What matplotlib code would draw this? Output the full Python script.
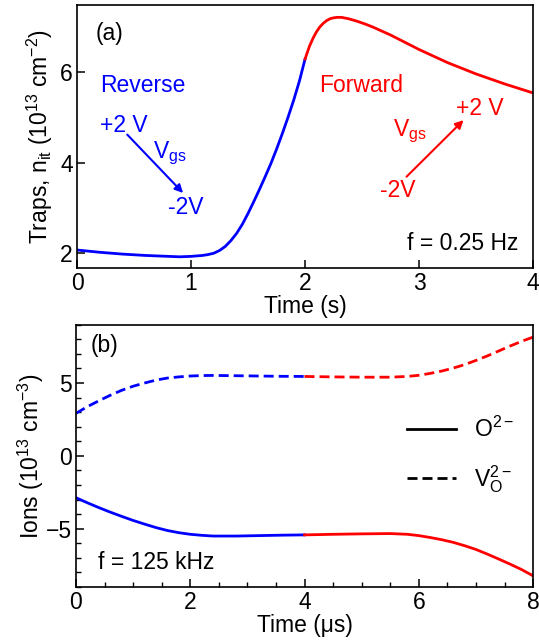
import matplotlib
matplotlib.use('Agg')
import matplotlib.pyplot as plt
from matplotlib.ticker import MultipleLocator
from matplotlib.lines import Line2D

plt.rcParams['font.family'] = ['Liberation Sans', 'DejaVu Sans']
plt.rcParams['mathtext.fontset'] = 'custom'
plt.rcParams['mathtext.rm'] = 'Liberation Sans'
plt.rcParams['mathtext.it'] = 'Liberation Sans'
plt.rcParams['mathtext.bf'] = 'Liberation Sans'

# (a) traps vs time, f = 0.25 Hz
t_rev = [0, 0.2, 0.4, 0.6, 0.8, 0.9, 1.0, 1.05, 1.1, 1.15, 1.2, 1.25, 1.3,
         1.35, 1.4, 1.45, 1.5, 1.55, 1.6, 1.65, 1.7, 1.75, 1.8, 1.85, 1.9,
         1.95, 2.0]
n_rev = [2.07, 2.02, 1.98, 1.95, 1.93, 1.92, 1.93, 1.94, 1.95, 1.97, 2.00,
         2.06, 2.15, 2.28, 2.44, 2.64, 2.88, 3.14, 3.41, 3.69, 3.98, 4.30,
         4.64, 5.00, 5.38, 5.80, 6.29]
t_fwd = [2.0, 2.02, 2.04, 2.07, 2.1, 2.13, 2.16, 2.19, 2.22, 2.25, 2.28,
         2.32, 2.38, 2.45, 2.53, 2.6, 2.75, 3.0, 3.25, 3.5, 3.75, 4.0]
n_fwd = [6.29, 6.44, 6.58, 6.75, 6.89, 7.00, 7.08, 7.14, 7.18, 7.20, 7.21,
         7.21, 7.18, 7.13, 7.06, 6.99, 6.82, 6.50, 6.21, 5.96, 5.74, 5.54]

# (b) ions vs time, f = 125 kHz
t_b1 = [0, 0.2, 0.4, 0.6, 0.8, 1.0, 1.2, 1.4, 1.6, 1.8, 2.0, 2.2, 2.4, 2.8,
        3.2, 3.6, 4.0]
vo_b1 = [2.92, 3.38, 3.78, 4.16, 4.5, 4.78, 5.0, 5.2, 5.34, 5.42, 5.48,
         5.51, 5.52, 5.5, 5.48, 5.46, 5.45]
o_b1 = [-2.87, -3.22, -3.55, -3.86, -4.15, -4.43, -4.68, -4.92, -5.12,
        -5.27, -5.38, -5.45, -5.5, -5.5, -5.47, -5.44, -5.42]
t_b2 = [4.0, 4.5, 5.0, 5.5, 5.8, 6.0, 6.2, 6.4, 6.6, 6.8, 7.0, 7.2, 7.4,
        7.6, 7.8, 8.0]
vo_b2 = [5.45, 5.42, 5.4, 5.4, 5.45, 5.53, 5.66, 5.82, 6.02, 6.26, 6.55,
         6.86, 7.2, 7.54, 7.86, 8.15]
o_b2 = [-5.42, -5.38, -5.35, -5.33, -5.38, -5.47, -5.6, -5.75, -5.93,
        -6.16, -6.42, -6.74, -7.08, -7.43, -7.8, -8.23]

blue = '#0000ff'
red = '#ff0000'
fs = 16.5
lw = 2.0
dash = (3.6, 1.8)

fig = plt.figure(figsize=(5.39, 6.43), dpi=100)
ax1 = fig.add_axes([0.143, 0.583, 0.846, 0.409])
ax2 = fig.add_axes([0.141, 0.087, 0.848, 0.408])

for ax in (ax1, ax2):
    for s in ax.spines.values():
        s.set_linewidth(1.2)
    ax.tick_params(direction='in', which='major', length=6, width=1.1,
                   labelsize=fs, top=False, right=False, pad=3)
    ax.tick_params(direction='in', which='minor', length=3.5, width=1.0)

# panel (a)
ax1.plot(t_rev, n_rev, color=blue, lw=lw)
ax1.plot(t_fwd, n_fwd, color=red, lw=lw)
ax1.set_xlim(0, 4)
ax1.set_ylim(1.67, 7.48)
ax1.set_xticks([0, 1, 2, 3, 4])
ax1.set_yticks([2, 4, 6])
ax1.set_xlabel('Time (s)', fontsize=fs, labelpad=0)
ax1.set_ylabel(r'Traps, n$_\mathregular{it}$ (10$^\mathregular{13}$ cm$^\mathregular{-2}$)',
               fontsize=fs, labelpad=4)

ax1.text(0.16, 6.86, '(a)', fontsize=fs, va='center')
ax1.text(0.2, 5.71, 'Reverse', color=blue, fontsize=fs, va='center')
ax1.text(0.2, 4.83, '+2 V', color=blue, fontsize=fs, va='center')
ax1.text(0.67, 4.2, r'V$_\mathregular{gs}$', color=blue, fontsize=fs, va='center')
ax1.text(0.8, 3.0, '-2V', color=blue, fontsize=fs, va='center')
ax1.annotate('', xy=(0.93, 3.33), xytext=(0.44, 4.62),
             arrowprops=dict(arrowstyle='-|>', color=blue, lw=1.5,
                             mutation_scale=12, shrinkA=0, shrinkB=0))

ax1.text(2.12, 5.71, 'Forward', color=red, fontsize=fs, va='center')
ax1.text(3.32, 5.2, '+2 V', color=red, fontsize=fs, va='center')
ax1.text(2.77, 4.7, r'V$_\mathregular{gs}$', color=red, fontsize=fs, va='center')
ax1.text(2.66, 3.39, '-2V', color=red, fontsize=fs, va='center')
ax1.annotate('', xy=(3.39, 4.94), xytext=(2.89, 3.69),
             arrowprops=dict(arrowstyle='-|>', color=red, lw=1.5,
                             mutation_scale=12, shrinkA=0, shrinkB=0))
ax1.text(3.87, 2.22, 'f = 0.25 Hz', fontsize=fs, ha='right', va='center')

# panel (b)
ax2.plot(t_b1, vo_b1, color=blue, lw=lw, dashes=dash)
ax2.plot(t_b2, vo_b2, color=red, lw=lw, dashes=dash)
ax2.plot(t_b1, o_b1, color=blue, lw=lw)
ax2.plot(t_b2, o_b2, color=red, lw=lw)
ax2.set_xlim(0, 8)
ax2.set_ylim(-9, 9)
ax2.set_xticks([0, 2, 4, 6, 8])
ax2.set_yticks([-5, 0, 5])
ax2.xaxis.set_minor_locator(MultipleLocator(0.5))
ax2.yaxis.set_minor_locator(MultipleLocator(1))
ax2.set_xlabel('Time (\u03bcs)', fontsize=fs, labelpad=0)
ax2.set_ylabel(r'Ions (10$^\mathregular{13}$ cm$^\mathregular{-3}$)', fontsize=fs,
               labelpad=0)
ax2.text(0.26, 7.57, '(b)', fontsize=fs, va='center')
ax2.text(0.39, -7.33, 'f = 125 kHz', fontsize=fs, va='center')

handles = [Line2D([], [], color='black', lw=lw),
           Line2D([], [], color='black', lw=lw, dashes=dash)]
labels = [r'O$^\mathregular{2-}$', r'V$_\mathregular{O}^\mathregular{2-}$']
ax2.legend(handles, labels, loc='center left', bbox_to_anchor=(0.68, 0.5),
           frameon=False, fontsize=fs, handlelength=2.1, handletextpad=0.8,
           labelspacing=0.9)

fig.savefig('out.png', dpi=100)
